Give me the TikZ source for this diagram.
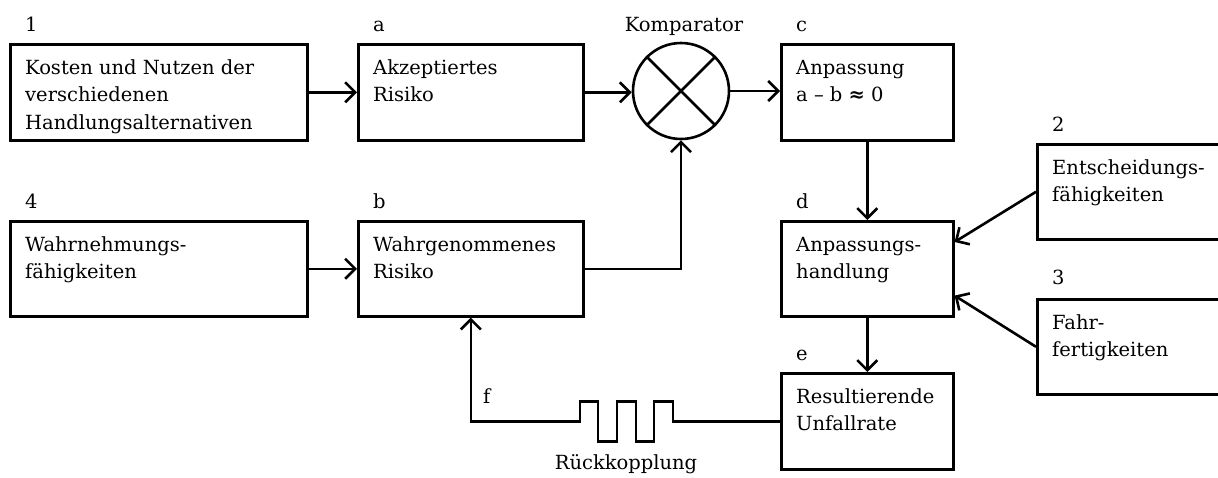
\documentclass[tikz,border=0pt]{standalone}
\usepackage{fontspec}
\setmainfont{DejaVu Serif}
\usetikzlibrary{arrows.meta,calc}
% stacked lines whose reference point is the first line's baseline
\newcommand{\boxlines}[1]{\begin{tabular}[t]{@{}l@{}}#1\end{tabular}}
\begin{document}
\begin{tikzpicture}[x=1pt,y=-1pt,
  font=\fontsize{19.5}{27.5}\selectfont,
  blk/.style={draw,line width=2.6pt,rectangle,anchor=north west,inner sep=0pt},
  txt/.style={anchor=base west,inner sep=0pt},
  tag/.style={anchor=base west,inner sep=0pt},
  conn/.style={line width=2.6pt},
  arr/.style={conn,-{Straight Barb[length=10pt,width=20pt,line width=2.6pt]}}]
\useasboundingbox (0,0) rectangle (1218,477);
\clip (0,0) rectangle (1218,477);

% boxes
\node[blk,minimum width=297pt,minimum height=96pt] (b1) at (9,43) {};
\node[blk,minimum width=225pt,minimum height=96pt] (ba) at (357,43) {};
\node[blk,minimum width=172pt,minimum height=96pt] (bc) at (780,43) {};
\node[blk,minimum width=297pt,minimum height=95pt] (b4) at (9,220) {};
\node[blk,minimum width=225pt,minimum height=95pt] (bb) at (357,220) {};
\node[blk,minimum width=172pt,minimum height=95pt] (bd) at (780,220) {};
\node[blk,minimum width=172pt,minimum height=96pt] (be) at (780,372) {};
\node[blk,minimum width=200pt,minimum height=95pt] (b2) at (1036,143) {};
\node[blk,minimum width=200pt,minimum height=95pt] (b3) at (1036,298) {};

% comparator
\node[draw,circle,line width=2.6pt,minimum size=96pt,inner sep=0pt] (comp) at (681,91) {};
\draw[conn] (comp.45) -- (comp.225);
\draw[conn] (comp.135) -- (comp.315);
\node[anchor=base,inner sep=0pt] (kt) at (684,31) {Komparator};

% box texts
\node[txt] (t1) at ($(b1.north west)+(16,31)$) {\boxlines{Kosten und Nutzen der\\verschiedenen\\Handlungsalternativen}};
\node[txt] (ta) at ($(ba.north west)+(16,31)$) {\boxlines{Akzeptiertes\\Risiko}};
\node[txt] (tc) at ($(bc.north west)+(16,31)$) {\boxlines{Anpassung\\a – b \textbf{≈} 0}};
\node[txt] (t4) at ($(b4.north west)+(16,31)$) {\boxlines{Wahrnehmungs-\\fähigkeiten}};
\node[txt] (tb) at ($(bb.north west)+(16,31)$) {\boxlines{Wahrgenommenes\\Risiko}};
\node[txt] (td) at ($(bd.north west)+(16,31)$) {\boxlines{Anpassungs-\\handlung}};
\node[txt] (te) at ($(be.north west)+(16,31)$) {\boxlines{Resultierende\\Unfallrate}};
\node[txt] (t2) at ($(b2.north west)+(16,31)$) {\boxlines{Entscheidungs-\\fähigkeiten}};
\node[txt] (t3) at ($(b3.north west)+(16,31)$) {\boxlines{Fahr-\\fertigkeiten}};

% tags above the boxes
\node[tag] (l1) at ($(b1.north west)+(16,-12)$) {1};
\node[tag] (la) at ($(ba.north west)+(16,-12)$) {a};
\node[tag] (lc) at ($(bc.north west)+(16,-12)$) {c};
\node[tag] (l4) at ($(b4.north west)+(16,-12)$) {4};
\node[tag] (lb) at ($(bb.north west)+(16,-12)$) {b};
\node[tag] (ld) at ($(bd.north west)+(16,-12)$) {d};
\node[tag] (le) at ($(be.north west)+(16,-12)$) {e};
\node[tag] (l2) at ($(b2.north west)+(16,-12)$) {2};
\node[tag] (l3) at ($(b3.north west)+(16,-14)$) {3};

% connectors
\draw[arr] (b1.east) -- (ba.west);
\draw[arr] (ba.east) -- (ba.east -| comp.west);
\draw[arr] (comp.east) -- (comp.east -| bc.west);
\draw[arr] (b4.east) -- (bb.west);
\draw[arr] (bb.east) -| (comp.south);
\draw[arr] (bc.south) -- (bd.north);
\draw[arr] (bd.south) -- (be.north);
\coordinate (din2) at ($(bd.north east)+(0,22)$);
\coordinate (din3) at ($(bd.south east)+(0,-22)$);
\draw[arr] (b2.west) -- (din2);
\draw[arr] (b3.west) -- (din3);

% feedback line with the square wave
\draw[arr] (be.west) -- ++(-107,0) -- ++(0,-20) -- ++(-19,0) -- ++(0,40)
  -- ++(-18,0) -- ++(0,-40) -- ++(-19,0) -- ++(0,40) -- ++(-19,0)
  -- ++(0,-40) -- ++(-18,0) -- ++(0,20) -| (bb.south);
\node[tag] (lf) at (483,403) {f};
\node[anchor=base,inner sep=0pt] (rk) at (626,469) {Rückkopplung};
\end{tikzpicture}
\end{document}
